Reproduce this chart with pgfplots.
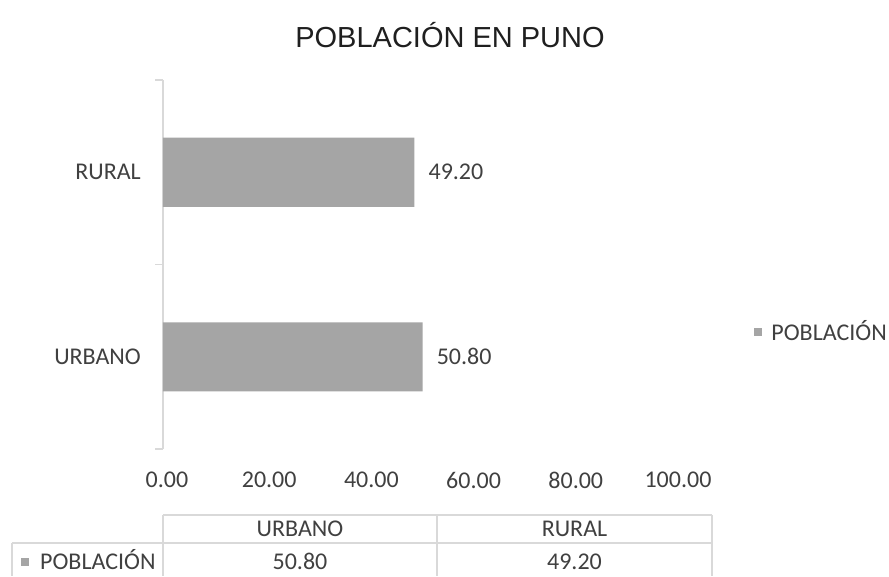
\documentclass[border=0pt]{standalone}
\usepackage{fontspec}
\setmainfont{Carlito}
\newfontfamily\titlefont{Liberation Sans}
\usepackage{pgfplots}
\pgfplotsset{compat=1.18}
\definecolor{barcol}{HTML}{A5A5A5}
\definecolor{txt}{HTML}{404040}
\definecolor{linec}{HTML}{D9D9D9}
\begin{document}
\fontsize{24}{28}\selectfont
\begin{tikzpicture}[x=1pt,y=1pt]
\useasboundingbox (0,0) rectangle (889,576);
% titulo
\node[font=\titlefont\fontsize{29}{34}\selectfont, text=black!88] at (450,541) {POBLACIÓN EN PUNO};

\begin{axis}[
    at={(163pt,127pt)}, anchor=south west,
    scale only axis, width=511pt, height=369pt,
    xbar, bar width=69pt,
    xmin=0, xmax=100, ymin=-0.5, ymax=1.5,
    axis y line*=left, axis x line*=bottom,
    x axis line style={draw=none},
    y axis line style={draw=linec, line width=1.3pt, -},
    major tick length=0pt,
    xtick={0,20,40,60,80,100},
    xticklabels={0.00,20.00,40.00,60.00,80.00,100.00},
    xticklabel style={text=txt, anchor=north, inner sep=0pt, yshift=-23pt, xshift=4pt},
    ytick={0,1},
    yticklabels={URBANO,RURAL},
    yticklabel style={text=txt, anchor=east, inner sep=0pt, xshift=-22pt},
    extra y ticks={-0.5,0.5,1.5},
    extra y tick labels={},
    extra y tick style={major tick length=8pt, tick align=outside,
        tick style={draw=linec, line width=1.3pt}},
    point meta=x,
    nodes near coords={\pgfmathprintnumber[fixed,fixed zerofill,precision=2,assume math mode=true]{\pgfplotspointmeta}},
    every node near coord/.append style={text=txt, anchor=west, inner sep=0pt, xshift=14pt},
    legend style={at={(1.157,0.317)}, anchor=west, draw=none, fill=none,
        inner sep=0pt, text=txt, font=\fontsize{24}{28}\selectfont,
        /tikz/every odd column/.append style={column sep=7pt}},
    legend image code/.code={\fill[barcol] (0pt,-4pt) rectangle (8pt,4pt);},
    clip=false,
]
\addplot[fill=barcol, draw=none] coordinates {(50.80,0) (49.20,1)};
\addlegendentry{POBLACIÓN}
\end{axis}

% tabla de datos
\draw[linec, line width=1.3pt] (163,61) -- (712,61);
\draw[linec, line width=1.3pt] (12,33) -- (712,33);
\draw[linec, line width=1.3pt] (163,61) -- (163,0);
\draw[linec, line width=1.3pt] (437,61) -- (437,0);
\draw[linec, line width=1.3pt] (712,61) -- (712,0);
\draw[linec, line width=1.3pt] (12,33) -- (12,0);
\node[text=txt, inner sep=0pt, anchor=base] at (300,39.5) {URBANO};
\node[text=txt, inner sep=0pt, anchor=base] at (574.5,39.5) {RURAL};
\node[text=txt, inner sep=0pt, anchor=base] at (300,6.5) {50.80};
\node[text=txt, inner sep=0pt, anchor=base] at (574.5,6.5) {49.20};
\fill[barcol] (21,10) rectangle (29,18);
\node[text=txt, anchor=base west, inner sep=0pt] at (40,6.5) {POBLACIÓN};
\end{tikzpicture}
\end{document}
